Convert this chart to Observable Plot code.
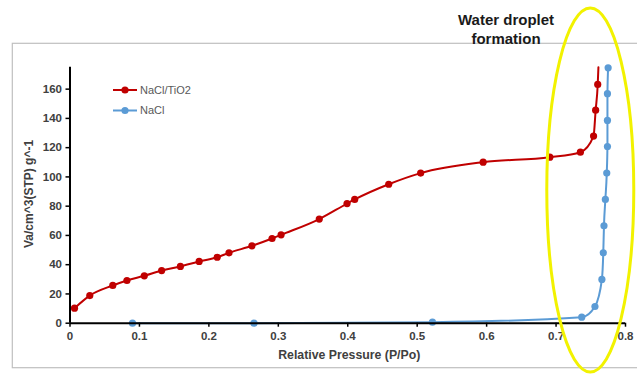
<!DOCTYPE html>
<html>
<head>
<meta charset="utf-8">
<script src="https://cdn.jsdelivr.net/npm/d3@7"></script>
<script src="https://cdn.jsdelivr.net/npm/@observablehq/plot@0.6"></script>
<style>
  html, body { margin: 0; padding: 0; background: #fff; }
  #chart { width: 637px; height: 375px; overflow: hidden; }
</style>
</head>
<body>
<div id="chart"></div>
<script>
// NaCl/TiO2 isotherm
const tio2X = [0.0065, 0.0285, 0.0616, 0.082, 0.107, 0.132, 0.159, 0.186, 0.212, 0.229, 0.262, 0.291, 0.304, 0.359, 0.399, 0.410, 0.459, 0.505, 0.595, 0.691, 0.735, 0.754, 0.757, 0.760];
const tio2Y = [10.3, 18.9, 25.8, 29.2, 32.4, 36.0, 38.8, 42.2, 45.1, 48.1, 52.9, 57.9, 60.4, 71.2, 81.8, 84.6, 95.0, 102.6, 110.1, 113.5, 116.9, 127.9, 145.6, 163.2];
// line continues to the top of the frame (no marker)
const tio2TailX = [0.760, 0.761];
const tio2TailY = [163.2, 175];
// NaCl isotherm
const naclX = [0.090, 0.265, 0.522, 0.737, 0.756, 0.766, 0.768, 0.769, 0.771, 0.773, 0.774, 0.774, 0.774, 0.775];
const naclY = [0, 0, 0.7, 4.1, 11.4, 29.9, 48.1, 66.6, 84.6, 102.6, 120.8, 138.6, 156.9, 174.6];

const xTicks = [0, 0.1, 0.2, 0.3, 0.4, 0.5, 0.6, 0.7, 0.8];
const xTickLabels = ["0", "0.1", "0.2", "0.3", "0.4", "0.5", "0.6", "0.7", "0.8"];
const yTicks = [0, 20, 40, 60, 80, 100, 120, 140, 160];
const seriesNames = ["NaCl/TiO2", "NaCl"];
const seriesColors = ["#c00000", "#5b9bd5"];
const xLabel = "Relative Pressure (P/Po)";
const yLabel = "Va/cm^3(STP) g^-1";
const annotation = ["Water droplet", "formation"];
const xDomain = [0, 0.8];
const yDomain = [0, 175];
const ellipseCenterX = 0.75;

const tio2 = tio2X.map((x, i) => ({x, y: tio2Y[i]}));
const tio2Line = tio2.concat(tio2TailX.slice(1).map((x, i) => ({x, y: tio2TailY[i + 1]})));
const nacl = naclX.map((x, i) => ({x, y: naclY[i]}));

const font = "'Liberation Sans', Arial, sans-serif";

const plot = Plot.plot({
  width: 637,
  height: 375,
  marginLeft: 69.5,
  marginRight: 12,
  marginTop: 66.7,
  marginBottom: 52.3,
  style: {fontFamily: font, fontSize: "11px", background: "transparent", overflow: "visible"},
  x: {domain: xDomain, ticks: xTicks, tickFormat: (d, i) => xTickLabels[i], label: null},
  y: {domain: yDomain, ticks: yTicks, label: null},
  marks: [
    Plot.line(tio2Line, {x: "x", y: "y", stroke: seriesColors[0], strokeWidth: 2, curve: "monotone-x"}),
    Plot.dot(tio2, {x: "x", y: "y", fill: seriesColors[0], r: 3.6}),
    Plot.line(nacl, {x: "x", y: "y", stroke: seriesColors[1], strokeWidth: 2, curve: "monotone-x"}),
    Plot.dot(nacl, {x: "x", y: "y", fill: seriesColors[1], r: 3.6}),
    Plot.ruleY([0], {stroke: "#000", strokeWidth: 2}),
    Plot.ruleX([0], {stroke: "#000", strokeWidth: 2}),
    Plot.axisX({ticks: xTicks, tickFormat: (d, i) => xTickLabels[i], tickSize: 4, tickPadding: 5, stroke: "#000", strokeWidth: 1.5, fill: "#404040", fontWeight: "bold", fontSize: 11.5, label: null}),
    Plot.axisY({ticks: yTicks, tickSize: 4, tickPadding: 4, stroke: "#000", strokeWidth: 1.5, fill: "#404040", fontWeight: "bold", fontSize: 11.5, label: null})
  ]
});

document.getElementById("chart").appendChild(plot);

const svg = d3.select(plot);
const xs = plot.scale("x");
const ys = plot.scale("y");

// outer border of the chart area
svg.insert("rect", ":first-child")
  .attr("x", 12.3).attr("y", 43.3).attr("width", 640).attr("height", 324.4)
  .attr("fill", "none").attr("stroke", "#bfbfbf").attr("stroke-width", 1.2);

// axis labels
svg.append("text")
  .attr("x", (xs.apply(xDomain[0]) + xs.apply(xDomain[1])) / 2 + 2)
  .attr("y", ys.apply(0) + 36)
  .attr("text-anchor", "middle")
  .attr("font-family", font).attr("font-size", 12.3).attr("font-weight", "bold").attr("fill", "#404040")
  .text(xLabel);
svg.append("text")
  .attr("transform", `translate(33,${ys.apply(88)}) rotate(-90)`)
  .attr("text-anchor", "middle")
  .attr("font-family", font).attr("font-size", 12).attr("font-weight", "bold").attr("fill", "#404040")
  .text(yLabel);

// legend
const legendX = 113, legendY0 = 90, legendDy = 20.5;
seriesNames.forEach((name, i) => {
  const g = svg.append("g").attr("transform", `translate(${legendX},${legendY0 + i * legendDy})`);
  g.append("line").attr("x1", 0).attr("x2", 24).attr("y1", 0).attr("y2", 0)
    .attr("stroke", seriesColors[i]).attr("stroke-width", 2);
  g.append("circle").attr("cx", 12).attr("cy", 0).attr("r", 3.6).attr("fill", seriesColors[i]);
  g.append("text").attr("x", 27).attr("y", 0).attr("dy", "0.35em")
    .attr("text-anchor", "start")
    .attr("font-family", font).attr("font-size", 11).attr("fill", "#595959")
    .text(name);
});

// highlight ellipse
svg.append("ellipse")
  .attr("cx", xs.apply(ellipseCenterX)).attr("cy", 190)
  .attr("rx", 43.5).attr("ry", 182)
  .attr("fill", "none").attr("stroke", "#f2f200").attr("stroke-width", 3);

// annotation
annotation.forEach((t, i) => {
  svg.append("text")
    .attr("x", 506).attr("y", 25 + i * 19)
    .attr("text-anchor", "middle")
    .attr("font-family", font).attr("font-size", 15).attr("font-weight", "bold").attr("fill", "#1a1a1a")
    .text(t);
});
</script>
</body>
</html>
